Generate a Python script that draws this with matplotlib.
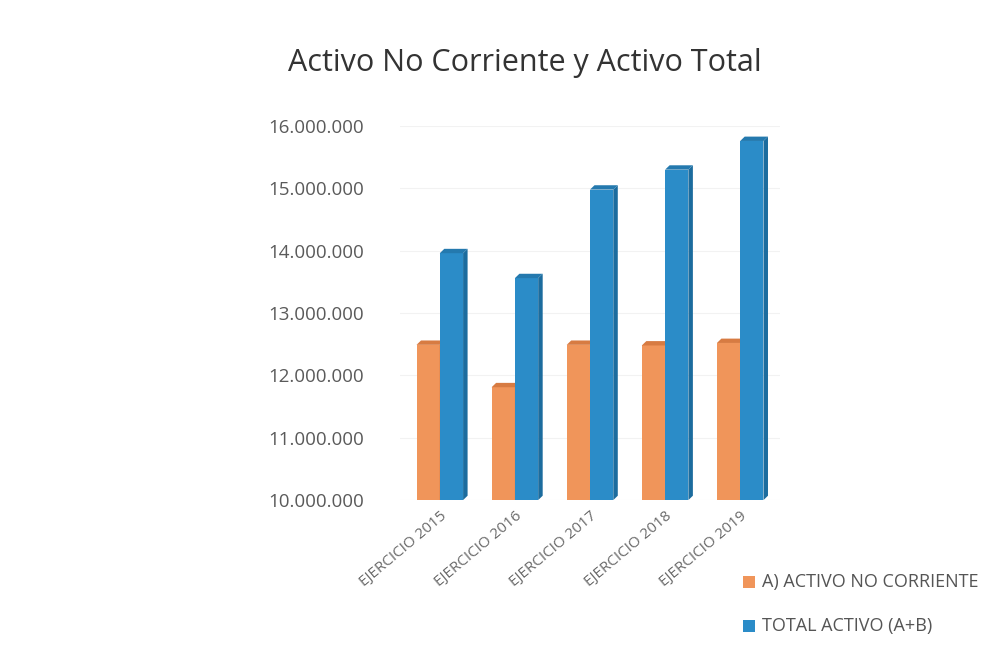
import matplotlib
matplotlib.use("Agg")
from matplotlib import pyplot as plt
from matplotlib.patches import Polygon
from matplotlib.ticker import FuncFormatter

categories = ["EJERCICIO 2015", "EJERCICIO 2016", "EJERCICIO 2017", "EJERCICIO 2018", "EJERCICIO 2019"]
activo_no_corriente = [12490000, 11810000, 12490000, 12480000, 12520000]
total_activo = [13960000, 13560000, 14980000, 15300000, 15760000]
series_names = ["A) ACTIVO NO CORRIENTE", "TOTAL ACTIVO (A+B)"]

plt.rcParams['font.family'] = ['Open Sans', 'DejaVu Sans']

fig = plt.figure(figsize=(10, 6.58), dpi=100)
ax = fig.add_axes([0.40, 0.240, 0.38, 0.5685])

w = 0.31
base = 10000000
dx = 0.06       # depth of the fake 3d side, in x units
dy = 70000      # depth in y units

colors = ["#F0955A", "#2B8CC8"]
side_colors = ["#C8703A", "#1C6C9E"]
top_colors = ["#D77B42", "#2479AE"]

def bar3d(x, h, c, cs, ct):
    ax.bar(x, h - base, width=w, bottom=base, color=c, align="edge", zorder=3)
    side = Polygon([(x + w, base), (x + w + dx, base + dy), (x + w + dx, h + dy), (x + w, h)],
                   closed=True, facecolor=cs, edgecolor="none", zorder=3)
    top = Polygon([(x, h), (x + dx, h + dy), (x + w + dx, h + dy), (x + w, h)],
                  closed=True, facecolor=ct, edgecolor="none", zorder=3)
    ax.add_patch(side)
    ax.add_patch(top)

for i in range(len(categories)):
    bar3d(i - w, activo_no_corriente[i], colors[0], side_colors[0], top_colors[0])
    bar3d(i, total_activo[i], colors[1], side_colors[1], top_colors[1])

ax.set_xlim(-0.53, 4.53)
ax.set_ylim(10000000, 16000000)
ax.set_yticks(range(10000000, 16000001, 1000000))
ax.yaxis.set_major_formatter(FuncFormatter(lambda v, p: "{:,.0f}".format(v).replace(",", ".")))
ax.set_xticks(range(len(categories)))
ax.set_xticklabels(categories, rotation=40, ha="right", rotation_mode="anchor")
ax.tick_params(axis="y", length=0, pad=26, labelsize=13.5, labelcolor="#5a5a5a")
ax.tick_params(axis="x", length=0, pad=6, labelsize=11, labelcolor="#6a6a6a")
ax.grid(axis="y", color="#f2f2f2", linewidth=0.8, zorder=0)
for s in ax.spines.values():
    s.set_visible(False)

fig.text(0.525, 0.905, "Activo No Corriente y Activo Total", ha="center", va="center",
         fontsize=22, color="#333333")

# legend
fig.patches.append(plt.Rectangle((0.743, 0.106), 0.012, 0.018, transform=fig.transFigure,
                                 facecolor=colors[0], edgecolor="none"))
fig.patches.append(plt.Rectangle((0.743, 0.039), 0.012, 0.018, transform=fig.transFigure,
                                 facecolor=colors[1], edgecolor="none"))
fig.text(0.762, 0.116, series_names[0], va="center", fontsize=13, color="#555555")
fig.text(0.762, 0.049, series_names[1], va="center", fontsize=13, color="#555555")

fig.savefig("out.png", dpi=100)
